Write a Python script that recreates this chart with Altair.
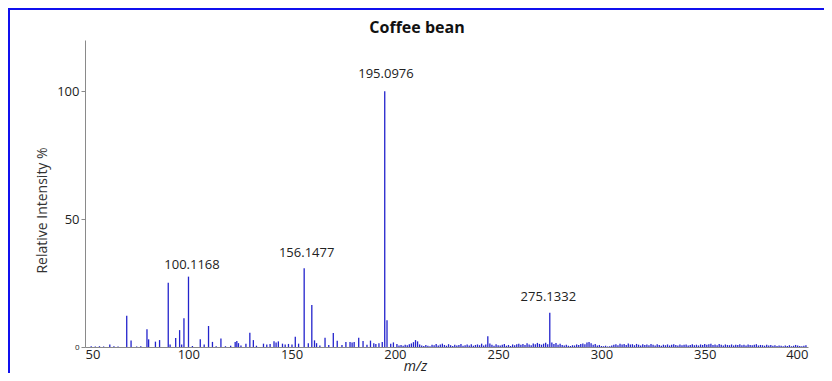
import altair as alt
import pandas as pd

# Low-mass region peaks (m/z, relative intensity %)
peak_mz = [53, 55, 57, 59, 62.0, 64, 66, 70.2, 72.3, 75, 77, 80.0, 80.8, 84.1, 86.1,
           90.3, 91.2, 93.9, 95.8, 96.8, 97.9, 100.1, 102, 105.8, 107.7, 109.8, 111.7,
           113.5, 115.8, 118, 120.5, 122.7, 123.5, 124.3, 125.5, 127.9, 129.8, 131.5,
           133, 136.4, 138.0, 139.6, 141.5, 142.5, 143.6, 145.6, 146.9, 148.5, 150.2,
           151.8, 153.4, 156.1, 158.1, 159.8, 161.1, 162.1, 163.7, 166.2, 168, 170.2,
           172.1, 174.4, 176.3, 178.3, 179.3, 180.3, 182.5, 184.6, 186.5, 188.2, 189.8,
           190.8, 192.3, 193.9, 195.1, 196.2, 198.0, 199.3]
peak_int = [0.3, 0.2, 0.3, 0.2, 1.0, 0.3, 0.2, 12.2, 2.5, 0.2, 0.3, 6.9, 3.0, 2.1, 2.7,
            25.1, 1.0, 3.5, 6.6, 1.0, 11.2, 27.5, 0.4, 3.0, 1.0, 8.2, 2.0,
            0.3, 3.3, 0.3, 0.5, 2.0, 2.3, 1.5, 0.6, 1.3, 5.6, 2.7,
            0.5, 1.3, 1.0, 1.2, 2.2, 1.8, 2.2, 1.3, 1.0, 1.2, 1.0,
            4.0, 1.3, 30.8, 1.5, 16.4, 2.6, 1.5, 0.6, 3.6, 0.8, 5.5,
            2.4, 0.8, 2.0, 2.0, 1.8, 2.0, 3.6, 2.3, 0.9, 2.5, 1.5,
            1.2, 1.5, 2.0, 100.0, 10.5, 1.3, 1.8]

# High-mass region, one value per nominal m/z from 201 to 399
high_mz = list(range(201, 400))
high_int = [
    1.2, 0.6, 0.8, 0.5, 0.9, 0.7, 1.1, 1.4, 1.9, 2.7,
    2.2, 1.0, 0.6, 0.4, 0.8, 0.5, 0.3, 0.9, 0.7, 1.2,
    0.6, 1.0, 1.3, 0.8, 0.5, 1.1, 0.7, 0.4, 0.9, 0.6,
    0.8, 1.2, 0.5, 0.7, 1.0, 0.6, 1.1, 0.5, 0.8, 1.0,
    0.7, 1.3, 0.6, 1.0, 4.2, 1.4, 0.9, 0.5, 1.1, 0.7,
    0.6, 0.9, 1.2, 0.5, 0.8, 0.4, 1.0, 0.7, 1.1, 1.3,
    0.9, 1.2, 0.8, 1.5, 1.0, 0.7, 1.4, 1.1, 1.6, 1.2,
    0.9, 1.3, 1.7, 1.1, 13.4, 1.8, 1.2, 1.6, 0.9, 1.3,
    0.8, 0.6, 0.9, 0.5, 0.4, 0.7, 0.6, 1.0, 0.8, 1.2,
    1.4, 1.1, 1.8, 2.0, 1.5, 0.9, 1.2, 0.6, 0.8, 0.4,
    0.3, 0.5, 0.2, 0.3, 0.6, 0.9, 1.1, 0.7, 1.3, 1.0,
    1.2, 0.8, 1.4, 1.0, 1.1, 0.7, 1.2, 0.9, 0.6, 1.1,
    0.8, 1.0, 0.7, 1.2, 0.9, 0.6, 1.1, 0.8, 0.5, 0.9,
    0.7, 1.0, 0.6, 0.9, 1.1, 0.8, 0.6, 1.0, 0.7, 0.9,
    1.0, 0.6, 0.8, 1.1, 0.7, 0.9, 0.6, 1.0, 0.8, 1.2,
    0.9, 1.1, 1.3, 0.8, 1.0, 0.7, 1.2, 0.9, 0.6, 1.0,
    0.8, 0.7, 1.0, 0.6, 0.9, 0.8, 1.1, 0.7, 0.9, 0.6,
    1.0, 0.8, 0.7, 0.9, 1.1, 0.6, 0.8, 0.7, 0.5, 0.9,
    0.6, 0.8, 0.5, 0.7, 0.4, 0.6, 0.5, 0.3, 0.6, 0.4,
    0.7, 0.3, 0.5, 0.8, 0.6, 0.4, 0.3, 0.5, 0.7]

# Peak annotations
label_text = ["100.1168", "156.1477", "195.0976", "275.1332"]
label_mz = [101.8, 157.3, 195.7, 274.3]
label_y = [32.0, 36.7, 106.6, 19.6]

x_ticks = [50, 100, 150, 200, 250, 300, 350, 400]
y_ticks = [0, 50, 100]
chart_title = "Coffee bean"

spec = pd.DataFrame({"mz": peak_mz + high_mz, "intensity": peak_int + high_int})
labels = pd.DataFrame({"mz": label_mz, "y": label_y, "text": label_text})

FONT = "Open Sans"

x_enc = alt.X(
    "mz:Q",
    scale=alt.Scale(domain=[50, 400], nice=False, zero=False),
    axis=alt.Axis(
        values=x_ticks, title="m/z", titleFontStyle="italic", titleFontWeight="normal",
        titleFontSize=14, titleColor="#222", titleX=330, titleY=23,
        titleBaseline="alphabetic",
        ticks=False, labelFontSize=13, labelColor="#222", labelPadding=1,
        domainColor="#8a8a8a", grid=False, labelFont=FONT, titleFont=FONT,
    ),
)
y_enc = alt.Y(
    "intensity:Q",
    scale=alt.Scale(domain=[0, 120], nice=False),
    axis=alt.Axis(
        values=y_ticks, title="Relative Intensity %", titleFontWeight="normal",
        titleFontSize=14, titleColor="#333", titleX=-43, titleY=170,
        titleBaseline="middle", titleAlign="center",
        labelFontSize=alt.expr("datum.value == 0 ? 8 : 13"), labelColor="#222",
        tickSize=4, tickColor="#8a8a8a", domainColor="#8a8a8a", grid=False,
        labelFont=FONT, titleFont=FONT, labelPadding=2,
    ),
)

bars = alt.Chart(spec).mark_rule(color="#2323cc", strokeWidth=1.3).encode(
    x=x_enc, y=y_enc, y2=alt.datum(0)
)

text = alt.Chart(labels).mark_text(
    font=FONT, fontSize=13, color="#222", align="center", baseline="middle"
).encode(x="mz:Q", y="y:Q", text="text:N")

frame_df = pd.DataFrame({"k": [0]})
title_mark = alt.Chart(frame_df).mark_text(
    text=chart_title, font=FONT, fontSize=16, fontWeight="bold", color="#111",
    align="center", baseline="middle"
).encode(x=alt.value(332), y=alt.value(-12))
top_line = alt.Chart(frame_df).mark_rule(color="#1010ee", strokeWidth=2).encode(
    x=alt.value(-80), x2=alt.value(760), y=alt.value(-31)
)
left_line = alt.Chart(frame_df).mark_rule(color="#1010ee", strokeWidth=2).encode(
    x=alt.value(-76), y=alt.value(-32), y2=alt.value(360)
)

chart = alt.layer(bars, text, title_mark, top_line, left_line).properties(
    width=723, height=307,
    autosize=alt.AutoSizeParams(type="none"),
    padding={"left": 77, "top": 32, "right": 16, "bottom": 26},
    background="white",
).configure_view(stroke=None)

chart.save("out.html", embed_options={"renderer": "svg", "actions": False})
